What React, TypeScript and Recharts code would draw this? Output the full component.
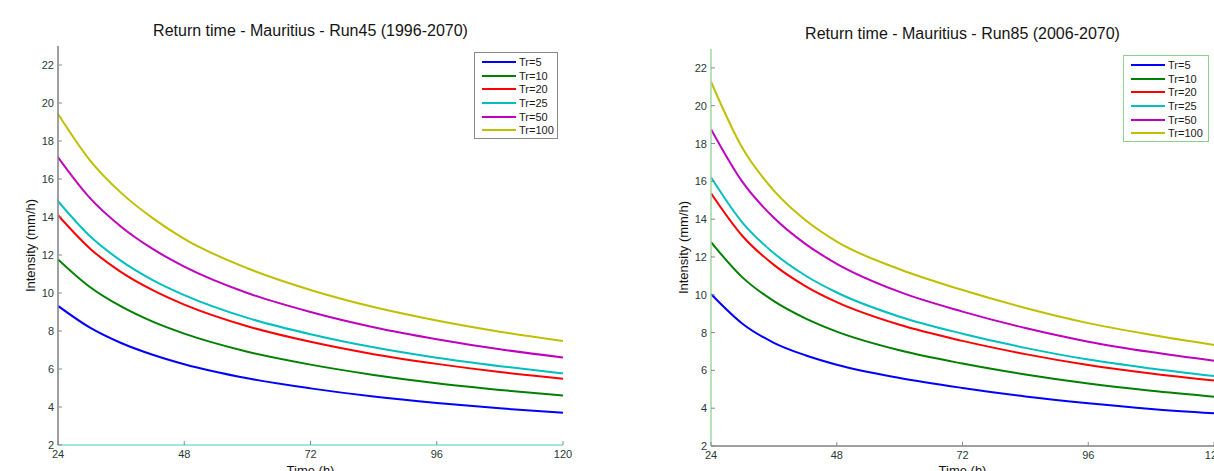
import { LineChart, Line, XAxis, YAxis, Legend } from "recharts"

const hours = [24, 30, 36, 42, 48, 60, 72, 84, 96, 108, 120]
const returnPeriods = [5, 10, 20, 25, 50, 100]
const xTicks = [24, 48, 72, 96, 120]
const yTicks = [2, 4, 6, 8, 10, 12, 14, 16, 18, 20, 22]

// Run45 (1996-2070), intensity in mm/h
const run45Tr5 = [9.32, 8.19, 7.37, 6.75, 6.25, 5.51, 4.98, 4.55, 4.21, 3.93, 3.7]
const run45Tr10 = [11.77, 10.33, 9.29, 8.49, 7.86, 6.91, 6.23, 5.69, 5.25, 4.9, 4.6]
const run45Tr20 = [14.09, 12.36, 11.1, 10.15, 9.39, 8.25, 7.43, 6.78, 6.27, 5.84, 5.49]
const run45Tr25 = [14.83, 13.01, 11.69, 10.68, 9.89, 8.69, 7.83, 7.14, 6.59, 6.15, 5.77]
const run45Tr50 = [17.14, 15.02, 13.49, 12.32, 11.39, 10.0, 9.0, 8.2, 7.57, 7.04, 6.61]
const run45Tr100 = [19.42, 17.01, 15.27, 13.94, 12.85, 11.3, 10.16, 9.26, 8.55, 7.96, 7.47]

// Run85 (2006-2070)
const run85Tr5 = [10.04, 8.47, 7.46, 6.8, 6.3, 5.6, 5.07, 4.62, 4.26, 3.96, 3.73]
const run85Tr10 = [12.78, 10.92, 9.66, 8.75, 8.05, 7.06, 6.36, 5.78, 5.3, 4.92, 4.61]
const run85Tr20 = [15.37, 13.11, 11.58, 10.46, 9.61, 8.41, 7.56, 6.86, 6.28, 5.83, 5.46]
const run85Tr25 = [16.22, 13.82, 12.2, 11.02, 10.12, 8.84, 7.94, 7.19, 6.57, 6.1, 5.7]
const run85Tr50 = [18.76, 15.97, 14.07, 12.69, 11.64, 10.15, 9.11, 8.24, 7.52, 6.97, 6.51]
const run85Tr100 = [21.27, 17.76, 15.51, 13.95, 12.81, 11.35, 10.25, 9.3, 8.5, 7.88, 7.34]

const seriesColors = ["#0000ff", "#008000", "#ff0000", "#00bfbf", "#bf00bf", "#bfbf00"]

const FONT = '"Liberation Sans", Arial, sans-serif'
const TICK_TEXT = "#1f3a36"

const buildRows = (series: number[][]) =>
  hours.map((h, i) => {
    const row: Record<string, number> = { time: h }
    returnPeriods.forEach((tr, k) => {
      row[`tr${tr}`] = series[k][i]
    })
    return row
  })

const run45Rows = buildRows([run45Tr5, run45Tr10, run45Tr20, run45Tr25, run45Tr50, run45Tr100])
const run85Rows = buildRows([run85Tr5, run85Tr10, run85Tr20, run85Tr25, run85Tr50, run85Tr100])

function YTick(props: any) {
  const { x, y, payload, tickColor } = props
  return (
    <g>
      <line x1={x + 4} x2={x + 8} y1={y} y2={y} stroke={tickColor} />
      <text x={x} y={y} dy={4} textAnchor="end" fontSize={11} fontFamily={FONT} fill={TICK_TEXT}>
        {payload.value}
      </text>
    </g>
  )
}

function XTick(props: any) {
  const { x, y, payload, tickColor } = props
  return (
    <g>
      <line x1={x} x2={x} y1={y - 5} y2={y - 9} stroke={tickColor} />
      <text x={x} y={y} dy="0.71em" textAnchor="middle" fontSize={11} fontFamily={FONT} fill={TICK_TEXT}>
        {payload.value}
      </text>
    </g>
  )
}

// legend keeps the series order (Tr=5 ... Tr=100), not recharts' alphabetical sort
function LegendBox({ payload, border, width }: any) {
  const items = returnPeriods
    .map((tr) => (payload || []).find((p: any) => p.value === `Tr=${tr}`))
    .filter(Boolean)
  return (
    <div
      style={{
        border: `1px solid ${border}`,
        background: "#fff",
        width,
        padding: "2px 0 1px 0",
        fontFamily: FONT,
        fontSize: 11,
        color: "#1a1a1a",
      }}
    >
      {items.map((item: any) => (
        <div key={item.value} style={{ display: "flex", alignItems: "center", height: 13.7 }}>
          <svg width={44} height={8}>
            <line x1={7} x2={41} y1={4} y2={4} stroke={item.color} strokeWidth={2} />
          </svg>
          <span>{item.value}</span>
        </div>
      ))}
    </div>
  )
}

type PanelProps = {
  title: string
  rows: Record<string, number>[]
  left: number
  plotTop: number
  xAxisHeight: number
  marginRight: number
  frame: { left: string; bottom: string; top: string; right: string }
  legendAt: { left: number; top: number; width: number; border: string }
}

function ReturnTimePanel({ title, rows, left, plotTop, xAxisHeight, marginRight, frame, legendAt }: PanelProps) {
  const width = 600
  const height = 471
  return (
    <div style={{ position: "absolute", left, top: 0, width, height }}>
      <div
        style={{
          position: "absolute",
          left: 58,
          width: width - 58 - marginRight,
          top: plotTop - 23.5,
          textAlign: "center",
          fontFamily: FONT,
          fontSize: 16,
          lineHeight: "16px",
          color: "#141414",
          whiteSpace: "nowrap",
        }}
      >
        {title}
      </div>
      <LineChart
        width={width}
        height={height}
        data={rows}
        margin={{ top: plotTop, right: marginRight, bottom: 0, left: 18 }}
      >
        <XAxis
          dataKey="time"
          type="number"
          domain={[24, 120]}
          ticks={xTicks}
          interval={0}
          allowDataOverflow
          height={xAxisHeight}
          tickSize={0}
          tickMargin={5}
          tickLine={false}
          axisLine={{ stroke: frame.bottom, strokeWidth: 1.5 }}
          tick={(p: any) => <XTick {...p} tickColor="#888" />}
          label={{
            value: "Time (h)",
            position: "insideBottom",
            offset: -4,
            fontSize: 13,
            fontFamily: FONT,
            fill: "#141414",
          }}
        />
        <XAxis
          xAxisId="frameTop"
          orientation="top"
          type="number"
          domain={[24, 120]}
          ticks={xTicks}
          interval={0}
          allowDataOverflow
          height={0}
          mirror
          tick={false}
          tickSize={4}
          tickLine={{ stroke: "#888" }}
          axisLine={{ stroke: frame.top, strokeWidth: 1.5 }}
        />
        <YAxis
          type="number"
          domain={[2, 23]}
          ticks={yTicks}
          interval={0}
          allowDataOverflow
          width={40}
          tickSize={0}
          tickMargin={4}
          tickLine={false}
          axisLine={{ stroke: frame.left, strokeWidth: 1.5 }}
          tick={(p: any) => <YTick {...p} tickColor="#888" />}
          label={{
            value: "Intensity (mm/h)",
            angle: -90,
            position: "insideLeft",
            offset: 12,
            textAnchor: "middle",
            fontSize: 13,
            fontFamily: FONT,
            fill: "#141414",
          }}
        />
        <YAxis
          yAxisId="frameRight"
          orientation="right"
          type="number"
          domain={[2, 23]}
          ticks={yTicks}
          interval={0}
          allowDataOverflow
          width={0}
          mirror
          tick={false}
          tickSize={4}
          tickLine={{ stroke: "#888" }}
          axisLine={{ stroke: frame.right, strokeWidth: 1.5 }}
        />
        {returnPeriods.map((tr, k) => (
          <Line
            key={tr}
            type="monotone"
            dataKey={`tr${tr}`}
            name={`Tr=${tr}`}
            stroke={seriesColors[k]}
            strokeWidth={2}
            dot={false}
            activeDot={false}
            isAnimationActive={false}
          />
        ))}
        <Legend
          layout="vertical"
          align="center"
          verticalAlign="middle"
          wrapperStyle={{ left: legendAt.left, top: legendAt.top, width: "auto", height: "auto" }}
          content={(p: any) => <LegendBox payload={p.payload} border={legendAt.border} width={legendAt.width} />}
        />
      </LineChart>
    </div>
  )
}

export default function App() {
  return (
    <div
      style={{
        position: "absolute",
        left: 0,
        top: 0,
        width: 1214,
        height: 471,
        overflow: "hidden",
        background: "#fff",
      }}
    >
      <ReturnTimePanel
        title="Return time - Mauritius - Run45 (1996-2070)"
        rows={run45Rows}
        left={0}
        plotTop={46}
        xAxisHeight={26}
        marginRight={37}
        frame={{ left: "#808080", bottom: "#7fdede", top: "#808080", right: "#808080" }}
        legendAt={{ left: 474, top: 52, width: 82, border: "#8a8a8a" }}
      />
      <ReturnTimePanel
        title="Return time - Mauritius - Run85 (2006-2070)"
        rows={run85Rows}
        left={653}
        plotTop={49}
        xAxisHeight={25}
        marginRight={39}
        frame={{ left: "#9fd89f", bottom: "#808080", top: "#7fdede", right: "#9fd89f" }}
        legendAt={{ left: 470, top: 55, width: 84, border: "#8fd08f" }}
      />
    </div>
  )
}
